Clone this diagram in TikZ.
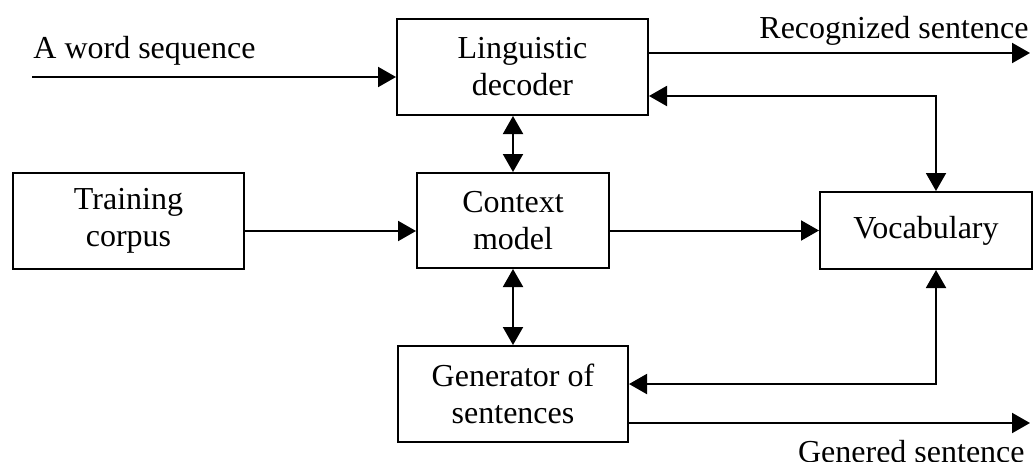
\documentclass[tikz,border=0pt]{standalone}
\usepackage{fontspec}
\setmainfont{Liberation Serif}
\usetikzlibrary{arrows.meta,positioning}

\begin{document}
\begin{tikzpicture}[
  x=0.5pt, y=-0.5pt,
  every node/.style={font=\fontsize{16}{18.5}\selectfont},
  box/.style={draw, line width=1pt, minimum height=48pt, align=center, inner sep=0pt},
  arr/.style={-{Triangle[length=9pt,width=10pt]}, line width=1pt},
  darr/.style={{Triangle[length=9pt,width=10pt]}-{Triangle[length=9pt,width=10pt]}, line width=1pt}
]
  \useasboundingbox (0,0) rectangle (1033,461);

  % blocks
  \node[box, minimum width=125.5pt] (dec) at (522.5,67) {Linguistic\\decoder};
  \node[box, minimum width=96pt, minimum height=47.5pt] (ctx) at (513,220.5) {Context\\model};
  \node[box, minimum width=115.5pt] (train) at (128.5,221) {Training\\corpus};
  \node[box, minimum width=106pt, minimum height=38.5pt] (voc) at (926,230.5) {Vocabulary};
  \node[box, minimum width=115pt] (gen) at (513,394) {Generator of\\sentences};

  % free ends and bends
  \coordinate (ws) at (32,77);
  \coordinate (rs) at (1030,53);
  \coordinate (dv) at (936,96);
  \coordinate (row) at (0,231);
  \coordinate (gv) at (936,384);
  \coordinate (gs) at (1030,423);

  % labels
  \node[anchor=base west, inner sep=0pt] (wslbl) at (33,58) {A word sequence};
  \node[anchor=base east, inner sep=0pt] (rslbl) at (1029,38) {Recognized sentence};
  \node[anchor=base east, inner sep=0pt] (gslbl) at (1025,462) {Genered sentence};

  % connectors
  \draw[arr] (ws) -- (ws -| dec.west);
  \draw[arr] (dec.east |- rs) -- (rs);
  \draw[darr] (dv -| dec.east) -- (dv) -- (dv |- voc.north);
  \draw[darr] (ctx.north) -- (ctx.north |- dec.south);
  \draw[arr] (train.east |- row) -- (ctx.west |- row);
  \draw[arr] (ctx.east |- voc.west) -- (voc.west);
  \draw[darr] (ctx.south) -- (ctx.south |- gen.north);
  \draw[darr] (gv |- voc.south) -- (gv) -- (gv -| gen.east);
  \draw[arr] (gs -| gen.east) -- (gs);
\end{tikzpicture}
\end{document}
